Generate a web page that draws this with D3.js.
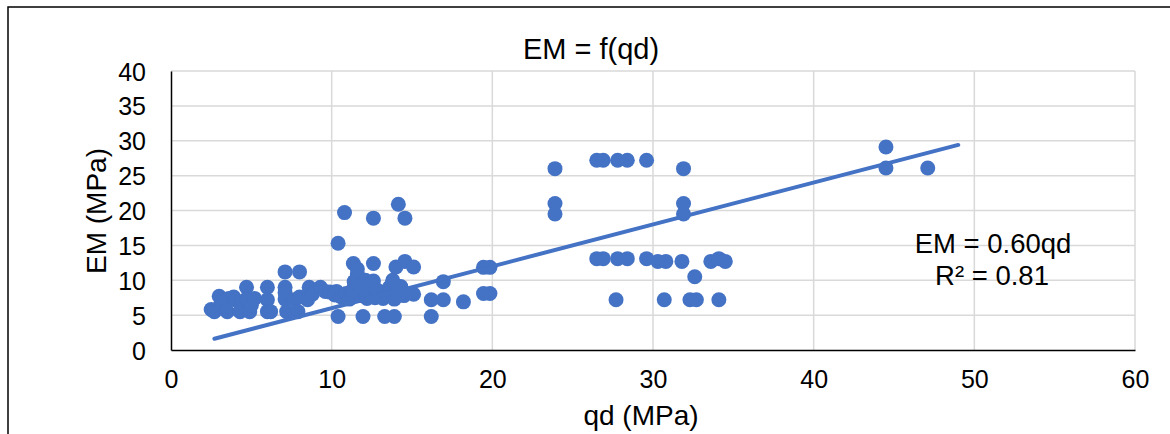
<!DOCTYPE html>
<html>
<head>
<meta charset="utf-8">
<script src="https://cdn.jsdelivr.net/npm/d3@7"></script>
<style>
  html, body { margin: 0; padding: 0; background: #fff; }
  svg { display: block; font-family: "Liberation Sans", Arial, sans-serif; }
</style>
</head>
<body>
<svg id="chart" width="1170" height="434"></svg>
<script>
// Measured pairs: cone resistance qd (MPa) and pressuremeter modulus EM (MPa)
const qd = [
  2.5, 2.7, 3.0, 3.1, 3.4, 3.5, 3.6, 3.9, 4.0, 4.3, 4.4, 4.7, 4.7, 4.8, 4.9, 5.0, 5.2,
  6.0, 6.0, 6.0, 6.2, 7.1, 7.1, 7.1, 7.1, 7.2, 7.7, 7.9, 8.0, 8.0, 8.5, 8.6, 8.8, 9.3, 9.6, 9.9,
  10.2, 10.3, 10.4, 10.4, 10.6, 10.8, 10.9, 11.1, 11.3, 11.35, 11.4, 11.6, 11.6, 11.8, 11.8,
  11.95, 12.0, 12.1, 12.2, 12.3, 12.5, 12.6, 12.6, 12.6, 12.7, 12.9, 13.2, 13.3, 13.5, 13.6,
  13.8, 13.9, 13.9, 14.0, 14.1, 14.15, 14.3, 14.5, 14.56, 14.56, 15.1, 15.1, 16.2, 16.2,
  16.95, 16.95, 18.2, 19.45, 19.85, 19.45, 19.85,
  23.9, 23.9, 23.9, 26.5, 26.9, 27.8, 28.4, 29.6, 31.9, 31.9, 31.9,
  26.5, 26.9, 27.8, 28.4, 29.6, 30.3, 30.8, 31.8, 33.6, 34.1, 34.5, 32.6,
  27.7, 30.7, 32.3, 32.7, 34.1, 44.5, 44.5, 47.1
];
const em = [
  5.8, 5.5, 7.7, 6.6, 7.2, 5.5, 7.4, 7.6, 7.2, 5.5, 6.8, 9.0, 7.3, 7.2, 5.5, 6.4, 7.4,
  9.0, 7.2, 5.5, 5.5, 11.2, 9.0, 7.3, 8.2, 5.5, 7.2, 5.5, 11.2, 7.6, 7.2, 9.0, 8.0, 9.0, 8.4, 8.3,
  7.9, 8.4, 15.3, 4.8, 7.6, 19.7, 8.1, 7.3, 8.6, 12.4, 9.8, 10.8, 11.6, 9.2, 7.8,
  4.8, 8.6, 10.0, 7.4, 9.2, 8.0, 12.4, 18.9, 9.9, 7.5, 8.5, 7.4, 4.8, 7.8, 9.0,
  10.0, 7.3, 4.8, 11.9, 8.3, 20.9, 9.1, 7.8, 18.9, 12.7, 11.9, 8.0, 7.2, 4.8,
  7.2, 9.8, 6.9, 11.85, 11.85, 8.1, 8.1,
  26.0, 21.0, 19.5, 27.2, 27.2, 27.2, 27.2, 27.2, 26.0, 21.0, 19.5,
  13.1, 13.1, 13.1, 13.1, 13.1, 12.7, 12.7, 12.7, 12.7, 13.1, 12.7, 10.5,
  7.2, 7.2, 7.2, 7.2, 7.2, 29.1, 26.1, 26.1
];

// Linear fit through the origin: EM = 0.60 qd, drawn over the qd range of the data
const fitSlope = 0.60;
const fitRange = [2.7, 49.0];
const fitR2 = 0.81;

const xTicks = [0, 10, 20, 30, 40, 50, 60];
const yTicks = [0, 5, 10, 15, 20, 25, 30, 35, 40];

const chartTitle = "EM = f(qd)";
const xTitle = "qd (MPa)";
const yTitle = "EM (MPa)";

const blue = "#4472C4";
const grid = "#d9d9d9";

const svg = d3.select("#chart");
const plotL = 171, plotR = 1135, plotT = 71, plotB = 350;

const x = d3.scaleLinear().domain([0, 60]).range([plotL, plotR]);
const y = d3.scaleLinear().domain([0, 40]).range([plotB, plotT]);

// outer chart frame
svg.append("rect")
  .attr("x", 8).attr("y", 7).attr("width", 1300).attr("height", 600)
  .attr("fill", "none").attr("stroke", "#000").attr("stroke-width", 1.5);

// gridlines
svg.append("g").selectAll("line").data(yTicks.filter(d => d > 0)).join("line")
  .attr("x1", plotL).attr("x2", plotR)
  .attr("y1", d => y(d)).attr("y2", d => y(d))
  .attr("stroke", grid).attr("stroke-width", 1.5);
svg.append("g").selectAll("line").data(xTicks.filter(d => d > 0)).join("line")
  .attr("y1", plotT).attr("y2", plotB)
  .attr("x1", d => x(d)).attr("x2", d => x(d))
  .attr("stroke", grid).attr("stroke-width", 1.5);

// axes
const xAxis = svg.append("g").attr("transform", `translate(0,${plotB})`)
  .call(d3.axisBottom(x).tickValues(xTicks).tickSize(0).tickPadding(25));
const yAxis = svg.append("g").attr("transform", `translate(${plotL},0)`)
  .call(d3.axisLeft(y).tickValues(yTicks).tickSize(0).tickPadding(25));
[xAxis, yAxis].forEach(g => {
  g.select(".domain").attr("stroke", "#000").attr("stroke-width", 1.5);
  g.selectAll("text").attr("font-size", 25).attr("fill", "#000")
    .attr("font-family", "Liberation Sans, Arial, sans-serif");
});
xAxis.selectAll("text").attr("dy", "0.5em");
yAxis.selectAll("text").attr("dy", "0.36em");

// points
svg.append("g").selectAll("circle").data(d3.range(qd.length)).join("circle")
  .attr("cx", i => x(qd[i])).attr("cy", i => y(em[i]))
  .attr("r", 7.5).attr("fill", blue);

// fitted line
svg.append("line")
  .attr("x1", x(fitRange[0])).attr("y1", y(fitSlope * fitRange[0]))
  .attr("x2", x(fitRange[1])).attr("y2", y(fitSlope * fitRange[1]))
  .attr("stroke", blue).attr("stroke-width", 4).attr("stroke-linecap", "round");

// titles
svg.append("text").attr("x", 591).attr("y", 59).attr("text-anchor", "middle")
  .attr("font-size", 29).text(chartTitle);
svg.append("text").attr("x", 641).attr("y", 425).attr("text-anchor", "middle")
  .attr("font-size", 28).text(xTitle);
svg.append("text").attr("transform", "translate(106,211) rotate(-90)")
  .attr("text-anchor", "middle").attr("font-size", 28).text(yTitle);

// fit equation
svg.append("text").attr("x", 993).attr("y", 253).attr("text-anchor", "middle")
  .attr("font-size", 27.5).text(`EM = ${fitSlope.toFixed(2)}qd`);
svg.append("text").attr("x", 992).attr("y", 285).attr("text-anchor", "middle")
  .attr("font-size", 27.5).text(`R² = ${fitR2.toFixed(2)}`);
</script>
</body>
</html>
